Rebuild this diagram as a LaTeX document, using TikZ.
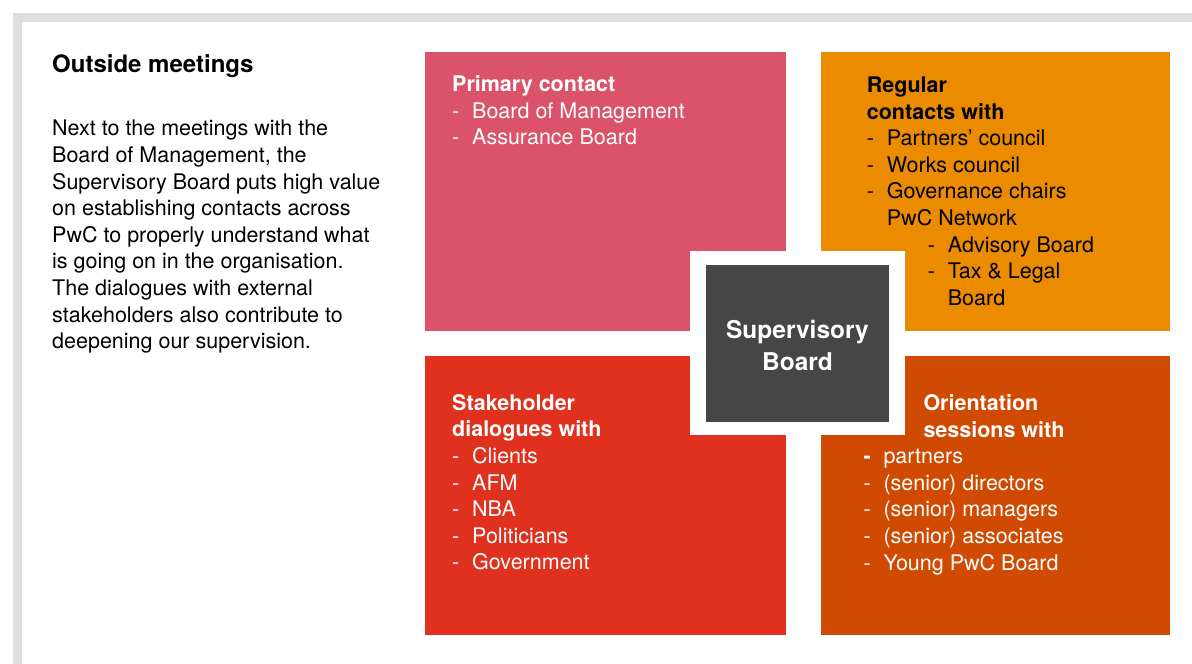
\documentclass[tikz,border=0pt]{standalone}
\usepackage{fontspec}
\setmainfont{TeX Gyre Heros}
\usetikzlibrary{positioning}
\definecolor{Rose}{HTML}{DB536A}
\definecolor{Tangerine}{HTML}{EB8C00}
\definecolor{Signal}{HTML}{E0301E}
\definecolor{Rust}{HTML}{D04A02}
\definecolor{Charcoal}{HTML}{464646}
\definecolor{Frame}{HTML}{DEDEDE}

% one list entry: dash, then the text at a fixed indent
\newcommand{\dashitem}[1]{\makebox[20pt][l]{-}#1}

\begin{document}
\begin{tikzpicture}[x=1pt,y=-1pt,
  panel/.style={anchor=north west, inner sep=0, outer sep=0, minimum height=279pt},
  body/.style={inner sep=0, align=left, font=\fontsize{21.5}{26.6}\selectfont}]
  \useasboundingbox (0,0) rectangle (1192,664);
  % grey page frame, top and left only
  \fill[Frame] (13,13) rectangle (1192,21.5);
  \fill[Frame] (13,21.5) rectangle (21.5,664);

  % left column
  \node[inner sep=0, anchor=base west, font=\bfseries\fontsize{24}{28}\selectfont] (title) at (52,72) {Outside meetings};
  \node[body, anchor=north west] (intro) at (52,120) {%
    Next to the meetings with the\\
    Board of Management, the\\
    Supervisory Board puts high value\\
    on establishing contacts across\\
    PwC to properly understand what\\
    is going on in the organisation.\\
    The dialogues with external\\
    stakeholders also contribute to\\
    deepening our supervision.};

  % four quadrants
  \node[panel, fill=Rose, minimum width=361pt] (primary) at (425,52) {};
  \node[panel, fill=Tangerine, minimum width=349pt] (regular) at (821,52) {};
  \node[panel, fill=Signal, minimum width=361pt] (stake) at (425,356) {};
  \node[panel, fill=Rust, minimum width=349pt] (orient) at (821,356) {};

  \node[body, text=white, below right=23.4pt and 27pt of primary.north west] (primarytxt) {%
    \textbf{Primary contact}\\
    \dashitem{Board of Management}\\
    \dashitem{Assurance Board}};
  \node[body, text=black, below right=24.6pt and 45.7pt of regular.north west] (regulartxt) {%
    \textbf{Regular}\\
    \textbf{contacts with}\\
    \dashitem{Partners’ council}\\
    \dashitem{Works council}\\
    \dashitem{Governance chairs}\\
    \hspace*{20pt}PwC Network\\
    \hspace*{61pt}\dashitem{Advisory Board}\\
    \hspace*{61pt}\dashitem{Tax \& Legal}\\
    \hspace*{81pt}Board};
  \node[body, text=white, below right=38.2pt and 27pt of stake.north west] (staketxt) {%
    \textbf{Stakeholder}\\
    \textbf{dialogues with}\\
    \dashitem{Clients}\\
    \dashitem{AFM}\\
    \dashitem{NBA}\\
    \dashitem{Politicians}\\
    \dashitem{Government}};
  \node[body, text=white, below right=38.2pt and 42.3pt of orient.north west] (orienttxt) {%
    \hspace*{60pt}\textbf{Orientation}\\
    \hspace*{60pt}\textbf{sessions with}\\
    \makebox[20pt][l]{\textbf{-}}partners\\
    \dashitem{(senior) directors}\\
    \dashitem{(senior) managers}\\
    \dashitem{(senior) associates}\\
    \dashitem{Young PwC Board}};

  % centre block with its white surround
  \node[fill=white, inner sep=0, minimum width=215pt, minimum height=184pt] (gap) at (797.5,343) {};
  \node[fill=Charcoal, inner sep=0, minimum width=183pt, minimum height=157pt] (board) at (797.5,343.5) {};
  \node[text=white, inner sep=0, align=center, font=\bfseries\fontsize{24.5}{31.6}\selectfont,
    yshift=-2pt] (boardtxt) at (board.center) {Supervisory\\Board};
\end{tikzpicture}
\end{document}
